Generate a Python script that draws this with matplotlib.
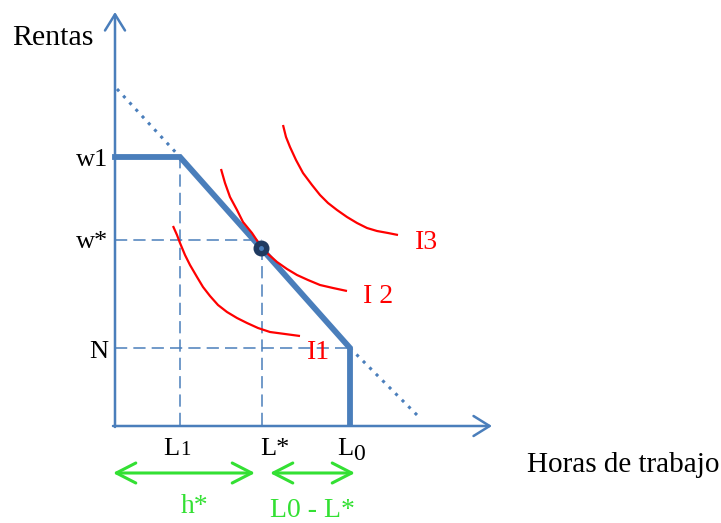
import matplotlib.pyplot as plt

plt.rcParams['font.family'] = ['Liberation Serif', 'DejaVu Serif']

BLUE = '#4a7ebb'
RED = '#ff0000'
GREEN = '#33e033'
NAVY = '#1f3a60'

# hours / income values, origin at the axis corner
L1, L_star, L0 = 65, 147, 235
w1, w_star, N = 268, 185, 77
optimum = (146, 177)

budget_x = [0, L1, L0, L0]
budget_y = [w1, w1, N, 2]

# extension of the sloped budget segment (dotted)
ext_upper_x = [2, L1]
ext_upper_y = [336, w1]
ext_lower_x = [L0, 306]
ext_lower_y = [N, 6]

# indifference curves
I1_x = [58, 62, 65, 70, 75, 82, 88, 95, 103, 112, 122, 132, 143, 155, 170, 185]
I1_y = [199, 190, 182, 170, 160, 148, 138, 129, 120, 113, 107, 102, 97, 93, 91, 89]
I2_x = [106, 110, 115, 122, 128, 137, 145, 153, 162, 172, 182, 193, 205, 218, 232]
I2_y = [256, 242, 228, 215, 203, 192, 180, 171, 163, 156, 150, 145, 140, 137, 134]
I3_x = [168, 171, 175, 181, 188, 197, 205, 213, 222, 232, 242, 252, 262, 273, 283]
I3_y = [300, 288, 278, 265, 252, 240, 230, 222, 215, 208, 202, 197, 194, 192, 190]

fig = plt.figure(figsize=(7.21, 5.23), dpi=100)
ax = fig.add_axes([0, 0, 1, 1])
ax.set_xlim(-115, 606)
ax.set_ylim(-98, 425)
ax.axis('off')

# guide lines
dash = dict(color=BLUE, lw=1.1, linestyle=(0, (8, 4)), zorder=1)
ax.plot([L1, L1], [0, w1], **dash)
ax.plot([0, L_star], [w_star, w_star], **dash)
ax.plot([L_star, L_star], [0, optimum[1]], **dash)
ax.plot([0, L0], [N, N], **dash)

dots = dict(color=BLUE, lw=2.2, linestyle=(0, (1, 2)), zorder=1)
ax.plot(ext_upper_x, ext_upper_y, **dots)
ax.plot(ext_lower_x, ext_lower_y, **dots)

ax.plot(budget_x, budget_y, color=BLUE, lw=4.2, solid_joinstyle='miter', zorder=2)

for xs, ys in [(I1_x, I1_y), (I2_x, I2_y), (I3_x, I3_y)]:
    ax.plot(xs, ys, color=RED, lw=1.6, solid_capstyle='butt',
            solid_joinstyle='round', zorder=3)

ax.plot(*optimum, 'o', ms=10.5, color=NAVY, zorder=4)
ax.plot(*optimum, 'o', ms=2.5, color=BLUE, zorder=5)

# axes with open arrow heads
arr = dict(arrowstyle='->,head_length=0.58,head_width=0.36', color=BLUE, lw=1.8,
           mutation_scale=20, shrinkA=0, shrinkB=0)
ax.annotate('', xy=(0, 413), xytext=(0, -2), arrowprops=arr)
ax.annotate('', xy=(377, -1), xytext=(-2, -1), arrowprops=arr)

# double arrows under the hours axis
garr = dict(arrowstyle='<->,head_length=0.7,head_width=0.36', color=GREEN, lw=2.2,
            mutation_scale=20, shrinkA=0, shrinkB=0)
ax.annotate('', xy=(140, -48), xytext=(-2, -48), arrowprops=garr)
ax.annotate('', xy=(240, -48), xytext=(155, -48), arrowprops=garr)

fs = 19
ax.text(-62, 387, 'Rentas', fontsize=21.5, ha='center', va='center')
ax.text(-7, 259, 'w1', fontsize=fs, ha='right', va='baseline')
ax.text(-7, 177, 'w*', fontsize=fs, ha='right', va='baseline')
ax.text(-7, 67, 'N', fontsize=fs, ha='right', va='baseline')

ax.text(48, -30, 'L', fontsize=fs, ha='left', va='baseline')
ax.text(65, -30, '1', fontsize=15, ha='left', va='baseline')
ax.text(160, -30, 'L*', fontsize=fs, ha='center', va='baseline')
ax.text(222, -30, 'L', fontsize=fs, ha='left', va='baseline')
ax.text(238, -35, '0', fontsize=17, ha='left', va='baseline')

ax.text(412, -47, 'Horas de trabajo', fontsize=21, ha='left', va='baseline')

ax.text(80, -88, 'h*', fontsize=20, color=GREEN, ha='center', va='baseline')
ax.text(197, -92, 'L0 - L*', fontsize=20, color=GREEN, ha='center', va='baseline')

ax.text(300, 176, 'I3', fontsize=20, color=RED, ha='left', va='baseline')
ax.text(248, 122, 'I 2', fontsize=20, color=RED, ha='left', va='baseline')
ax.text(192, 66, 'I1', fontsize=20, color=RED, ha='left', va='baseline')

fig.savefig('out.png', dpi=100)
